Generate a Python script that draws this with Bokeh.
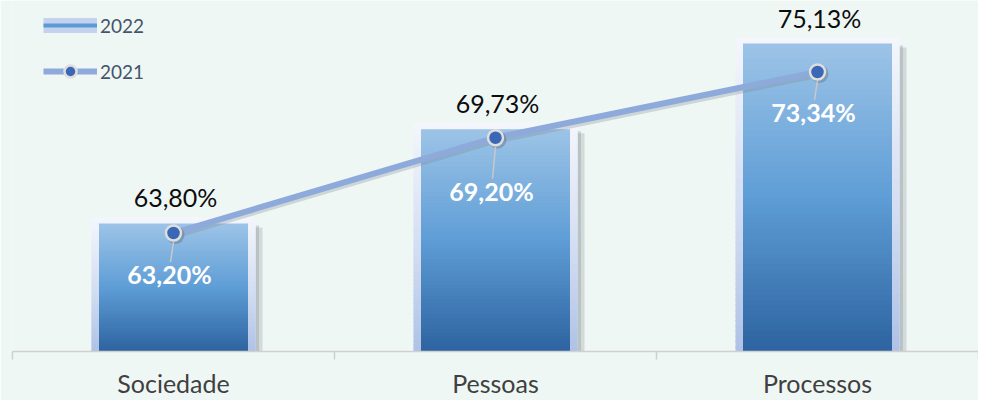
import numpy as np
from bokeh.plotting import figure
from bokeh.models import Range1d, FixedTicker, Legend, LegendItem
from bokeh.core.properties import value
from bokeh.embed import file_html
from bokeh.resources import INLINE

# ---------------- data ----------------
categories = ["Sociedade", "Pessoas", "Processos"]
values_2022 = [63.80, 69.73, 75.13]
values_2021 = [63.20, 69.20, 73.34]
labels_2022 = ["63,80%", "69,73%", "75,13%"]
labels_2021 = ["63,20%", "69,20%", "73,34%"]
series_names = ["2022", "2021"]

# ---------------- layout / style ----------------
FRAME_W, FRAME_H = 966, 351
Y_MIN, Y_MAX = 55.74, 77.84
PX = FRAME_H / (Y_MAX - Y_MIN)          # pixels per y unit
XPX = FRAME_W / len(categories)         # pixels per x unit
BG = "#eff7f5"
FONT = "Lato"

def px_y(p):
    return p / PX

def px_x(p):
    return p / XPX

def hex2rgb(h):
    h = h.lstrip("#")
    return np.array([int(h[i:i + 2], 16) for i in (0, 2, 4)], dtype=float)

def grad(stops, t):
    for (p0, c0), (p1, c1) in zip(stops[:-1], stops[1:]):
        if p0 <= t <= p1:
            f = (t - p0) / (p1 - p0) if p1 > p0 else 0
            c = hex2rgb(c0) * (1 - f) + hex2rgb(c1) * f
            return "#%02x%02x%02x" % tuple(int(round(v)) for v in c)
    return stops[-1][1]

BAR_STOPS = [(0.0, "#9dc4e7"), (0.5, "#5e9dd6"), (1.0, "#2d63a0")]
GLOW_STOPS = [(0.0, "#f4f6fc"), (0.55, "#d3ddf2"), (1.0, "#aec2e6")]

p = figure(frame_width=FRAME_W, frame_height=FRAME_H,
           x_range=Range1d(0, len(categories)), y_range=Range1d(Y_MIN, Y_MAX),
           y_axis_location=None, output_backend="svg", toolbar_location=None,
           min_border_left=12, min_border_right=0, min_border_top=0, min_border_bottom=0)
p.background_fill_color = BG
p.border_fill_color = BG
p.outline_line_color = None
p.grid.visible = False

xc = [i + 0.5 for i in range(len(categories))]

glow_half = px_x(82)
bar_half = px_x(74.5)

# ----- bar shadows -----
p.quad(left=[x + glow_half for x in xc], right=[x + glow_half + px_x(7) for x in xc],
       top=[v - px_y(4) for v in values_2022], bottom=[Y_MIN] * 3,
       fill_color="#8f989c", fill_alpha=0.3, line_color=None)
p.quad(left=[x + glow_half for x in xc], right=[x + glow_half + px_x(3.5) for x in xc],
       top=[v - px_y(2) for v in values_2022], bottom=[Y_MIN] * 3,
       fill_color="#8f989c", fill_alpha=0.35, line_color=None)

# ----- glow and gradient bars (sliced) -----
N = 60
ov = px_y(1.5)
gl, gr, gt, gb, gc = [], [], [], [], []
bl, br, bt, bb, bc = [], [], [], [], []
for x, v in zip(xc, values_2022):
    top_g = v + px_y(6)
    for k in range(N):
        t0 = top_g - (top_g - Y_MIN) * k / N
        t1 = top_g - (top_g - Y_MIN) * (k + 1) / N
        gl.append(x - glow_half); gr.append(x + glow_half)
        gt.append(t0); gb.append(max(Y_MIN, t1 - ov))
        gc.append(grad(GLOW_STOPS, (k + 0.5) / N))
        b0 = v - (v - Y_MIN) * k / N
        b1 = v - (v - Y_MIN) * (k + 1) / N
        bl.append(x - bar_half); br.append(x + bar_half)
        bt.append(b0); bb.append(max(Y_MIN, b1 - ov))
        bc.append(grad(BAR_STOPS, (k + 0.5) / N))
glow_r = p.quad(left=gl, right=gr, top=gt, bottom=gb, fill_color=gc, line_color=None)
p.quad(left=bl, right=br, top=bt, bottom=bb, fill_color=bc, line_color=None)

# ----- 2021 line -----
p.line(x=xc, y=[v - px_y(3) for v in values_2021], line_color="#7f8a90",
       line_alpha=0.3, line_width=6)
line_r = p.line(x=xc, y=values_2021, line_color="#8eaadb", line_width=6)
p.scatter(x=[x + px_x(2) for x in xc], y=[v - px_y(2) for v in values_2021],
          size=18, fill_color="#5a6268", fill_alpha=0.35, line_color=None)
mark_r = p.scatter(x=xc, y=values_2021, size=15, fill_color="#3a67b6",
                   line_color="#dedede", line_width=2.5)

# leader lines from marker to white labels
lab_off = [41, 53, 40]
p.segment(x0=xc, y0=[v - px_y(9) for v in values_2021],
          x1=[x - px_x(3) for x in xc],
          y1=[v - px_y(o - 12) for v, o in zip(values_2021, lab_off)],
          line_color="#c8c8c8", line_width=1.5)

# ----- labels -----
p.text(x=xc, y=values_2022, text=labels_2022, x_offset=2, y_offset=-26,
       text_align="center", text_baseline="middle",
       text_font=value(FONT), text_font_size="25px", text_color="#0d0d0d")
for x, v, t, o in zip(xc, values_2021, labels_2021, lab_off):
    p.text(x=[x], y=[v], text=[t], x_offset=-4, y_offset=o,
           text_align="center", text_baseline="middle",
           text_font=value(FONT), text_font_size="25px", text_font_style="bold",
           text_color="#ffffff")

# ----- x axis -----
ax = p.xaxis[0]
ax.ticker = FixedTicker(ticks=xc, minor_ticks=list(range(len(categories) + 1)))
ax.major_label_overrides = {x: c for x, c in zip(xc, categories)}
ax.major_tick_line_color = None
ax.major_tick_out = 0
ax.major_tick_in = 0
ax.minor_tick_line_color = "#d0d0d0"
ax.minor_tick_line_width = 1.5
ax.minor_tick_out = 8
ax.minor_tick_in = 0
ax.axis_line_color = "#d0d0d0"
ax.axis_line_width = 1.5
ax.major_label_standoff = 8
ax.major_label_text_font = FONT
ax.major_label_text_font_size = "25px"
ax.major_label_text_color = "#404040"

# ----- legend (glyphs only, no data) -----
nan = [np.nan]
leg_band = p.line(x=nan, y=nan, line_color="#c4d2ee", line_width=15)
leg_line = p.line(x=nan, y=nan, line_color="#5b9bd5", line_width=4)
legend = Legend(items=[LegendItem(label=series_names[0], renderers=[leg_band, leg_line]),
                       LegendItem(label=series_names[1], renderers=[line_r, mark_r])],
                location=(31, FRAME_H - 10 - 76), orientation="vertical",
                glyph_width=54, glyph_height=30, label_standoff=3, spacing=16,
                padding=0, margin=0, background_fill_alpha=0, border_line_color=None,
                label_text_font=FONT, label_text_font_size="19px", label_text_color="#44546a")
p.add_layout(legend)

html = file_html(p, INLINE)
html = html.replace("<body>", '<body style="background-color:%s;">' % BG, 1)
open("out.html", "w").write(html)
